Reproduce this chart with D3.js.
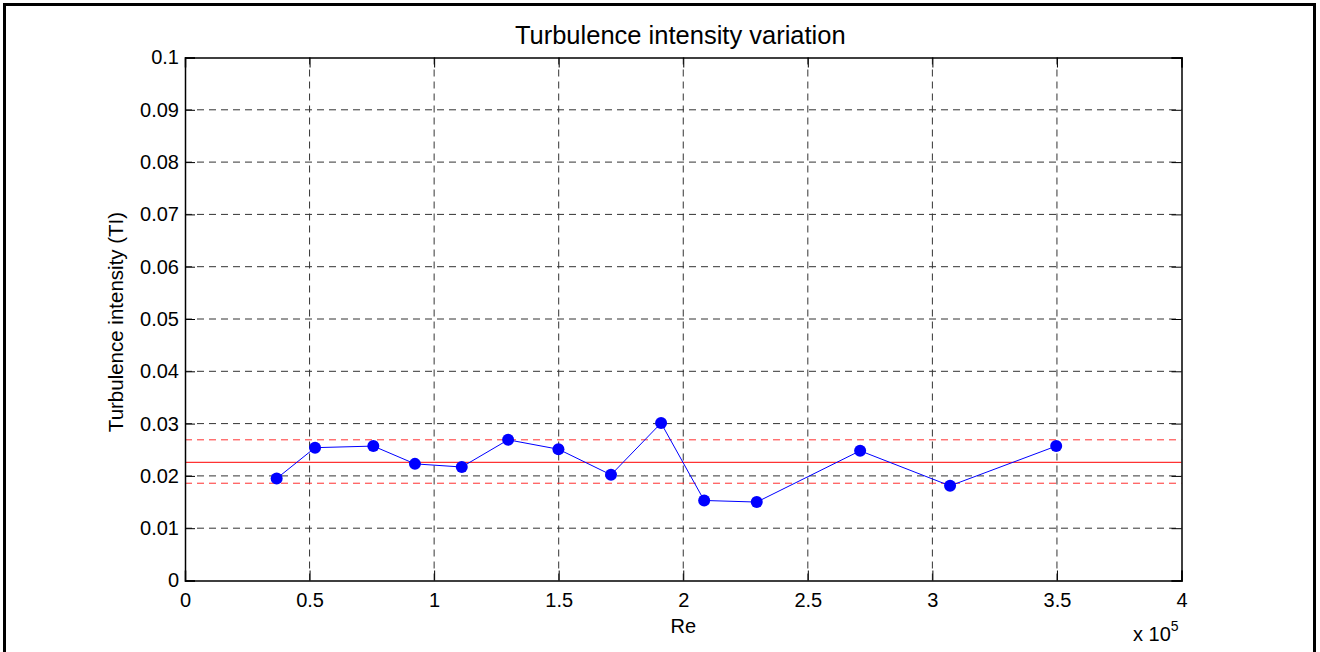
<!DOCTYPE html>
<html>
<head>
<meta charset="utf-8">
<script src="https://cdn.jsdelivr.net/npm/d3@7"></script>
<style>
  body { margin: 0; background: #fff; }
  text { font-family: "Liberation Sans", Arial, Helvetica, sans-serif; fill: #000; }
</style>
</head>
<body>
<div id="chart"></div>
<script>
// Re values are in units of 1e5
const reVals = [0.368, 0.522, 0.756, 0.923, 1.111, 1.297, 1.499, 1.710, 1.911, 2.084, 2.295, 2.710, 3.071, 3.497];
const tiVals = [0.0195, 0.0254, 0.0257, 0.0223, 0.0217, 0.0269, 0.0251, 0.0202, 0.0301, 0.0153, 0.0150, 0.0248, 0.0181, 0.0257];

// mean and band lines (red)
const tiMean = 0.0226;
const tiUpper = 0.0269;
const tiLower = 0.0186;

const xTicks = [0, 0.5, 1, 1.5, 2, 2.5, 3, 3.5, 4];
const xTickLabels = ["0", "0.5", "1", "1.5", "2", "2.5", "3", "3.5", "4"];
const yTicks = [0, 0.01, 0.02, 0.03, 0.04, 0.05, 0.06, 0.07, 0.08, 0.09, 0.1];
const yTickLabels = ["0", "0.01", "0.02", "0.03", "0.04", "0.05", "0.06", "0.07", "0.08", "0.09", "0.1"];

const W = 1320, H = 652;
const margin = { top: 57.5, right: 138.5, bottom: 71.5, left: 185 };
const width = W - margin.left - margin.right,
  height = H - margin.top - margin.bottom;

const svg = d3.select("#chart")
  .append("svg")
  .attr("width", W)
  .attr("height", H);

// figure frame
svg.append("rect")
  .attr("x", 4.5).attr("y", 4.5)
  .attr("width", 1310).attr("height", 700)
  .attr("fill", "none")
  .attr("stroke", "#000")
  .attr("stroke-width", 3);

const g = svg.append("g")
  .attr("transform", "translate(" + margin.left + "," + margin.top + ")");

const x = d3.scaleLinear().domain([0, 4]).range([0, width]);
const y = d3.scaleLinear().domain([0, 0.1]).range([height, 0]);

// grid
g.append("g").selectAll("line")
  .data(xTicks.slice(1, -1))
  .join("line")
  .attr("x1", d => x(d)).attr("x2", d => x(d))
  .attr("y1", 0).attr("y2", height)
  .attr("stroke", "#333")
  .attr("stroke-dasharray", "7,5");

g.append("g").selectAll("line")
  .data(yTicks.slice(1, -1))
  .join("line")
  .attr("x1", 0).attr("x2", width)
  .attr("y1", d => y(d)).attr("y2", d => y(d))
  .attr("stroke", "#333")
  .attr("stroke-dasharray", "7,5");

// red reference lines
g.append("line")
  .attr("x1", 0).attr("x2", width)
  .attr("y1", y(tiMean)).attr("y2", y(tiMean))
  .attr("stroke", "#ff0000");

g.selectAll(".band")
  .data([tiUpper, tiLower])
  .join("line")
  .attr("class", "band")
  .attr("x1", 0).attr("x2", width)
  .attr("y1", d => y(d)).attr("y2", d => y(d))
  .attr("stroke", "#ff3030")
  .attr("stroke-dasharray", "7,5");

// axes, ticks inward on all four sides
const fmtX = d => xTickLabels[xTicks.indexOf(d)];
const fmtY = d => yTickLabels[yTicks.indexOf(d)];

const xAxis = g.append("g")
  .attr("transform", "translate(0," + height + ")")
  .call(d3.axisBottom(x).tickValues(xTicks).tickFormat(fmtX).tickSize(-10).tickPadding(12));
const xTop = g.append("g")
  .call(d3.axisTop(x).tickValues(xTicks).tickFormat("").tickSize(-10));
const yAxis = g.append("g")
  .call(d3.axisLeft(y).tickValues(yTicks).tickFormat(fmtY).tickSize(-10).tickPadding(6));
const yRight = g.append("g")
  .attr("transform", "translate(" + width + ",0)")
  .call(d3.axisRight(y).tickValues(yTicks).tickFormat("").tickSize(-10));

[xAxis, xTop, yAxis, yRight].forEach(a => {
  a.selectAll(".domain").attr("stroke", "#000").attr("stroke-width", 1.5);
  a.selectAll(".tick line").attr("stroke", "#000");
  a.selectAll("text")
    .style("font-size", "20px")
    .attr("fill", "#000");
});

// data line and markers
const pts = reVals.map((r, i) => ({ re: r, ti: tiVals[i] }));

g.append("path")
  .datum(pts)
  .attr("fill", "none")
  .attr("stroke", "#0000ff")
  .attr("stroke-width", 1)
  .attr("d", d3.line()
    .x(d => x(d.re))
    .y(d => y(d.ti)));

g.selectAll(".pt")
  .data(pts)
  .join("circle")
  .attr("class", "pt")
  .attr("cx", d => x(d.re))
  .attr("cy", d => y(d.ti))
  .attr("r", 6)
  .attr("fill", "#0000ff");

// labels
svg.append("text")
  .attr("x", margin.left + width / 2 - 3)
  .attr("y", 44)
  .attr("text-anchor", "middle")
  .style("font-size", "25.5px")
  .text("Turbulence intensity variation");

svg.append("text")
  .attr("x", margin.left + width / 2)
  .attr("y", 633)
  .attr("text-anchor", "middle")
  .style("font-size", "20px")
  .text("Re");

svg.append("text")
  .attr("transform", "translate(123," + (margin.top + height / 2 + 3) + ") rotate(-90)")
  .attr("text-anchor", "middle")
  .style("font-size", "20.5px")
  .text("Turbulence intensity (TI)");

const mult = svg.append("text")
  .attr("x", 1133)
  .attr("y", 641)
  .style("font-size", "20px");
mult.append("tspan").text("x 10");
mult.append("tspan")
  .attr("dy", -10)
  .style("font-size", "14px")
  .text("5");
</script>
</body>
</html>
